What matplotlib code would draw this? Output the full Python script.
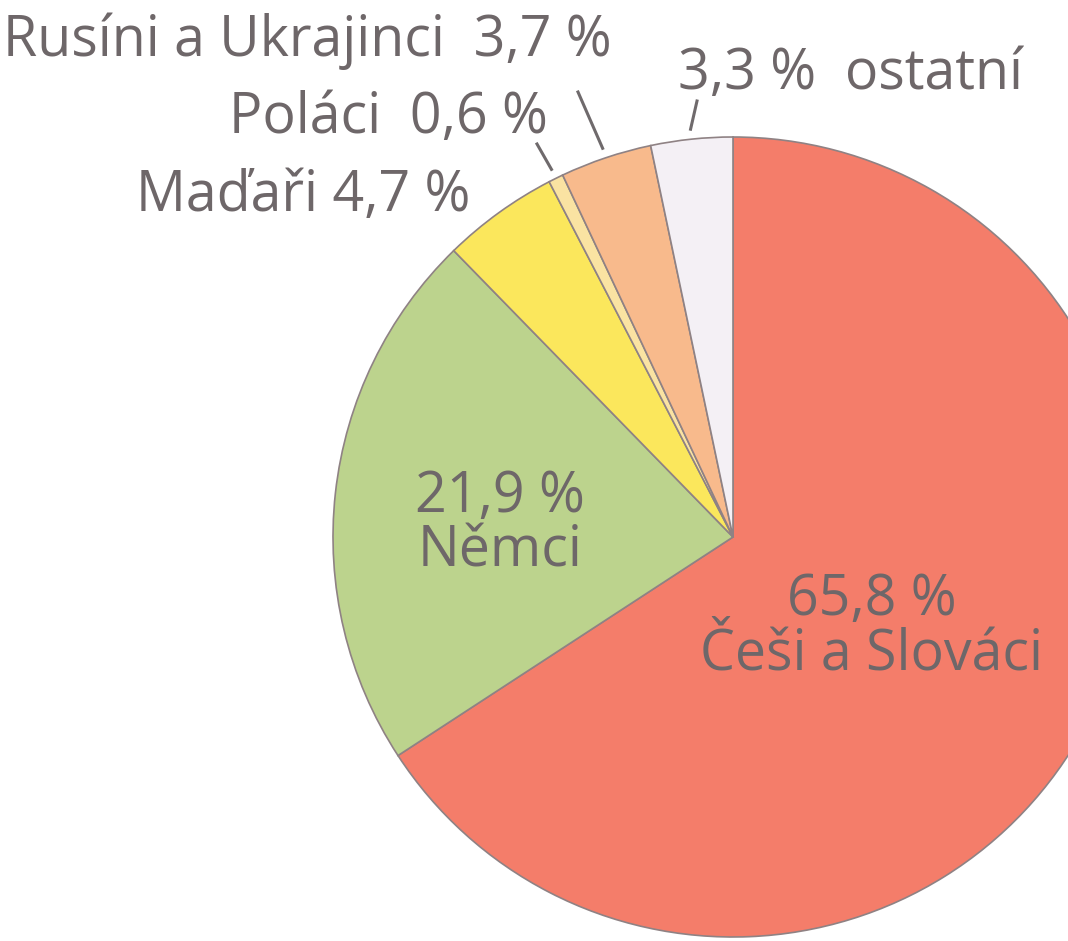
import numpy as np
import matplotlib.pyplot as plt

# --- data ---
labels = ['Češi a Slováci', 'Němci', 'Maďaři', 'Poláci', 'Rusíni a Ukrajinci', 'ostatní']
shares = [65.8, 21.9, 4.7, 0.6, 3.7, 3.3]
colors = ['#F47D6A', '#BCD38D', '#FBE75C', '#FAE3A2', '#F8BA8C', '#F4F0F5']

W, H = 1068, 941
cx, cy, R = 733, H - 537, 400
txt_color = '#6e6769'
font = ['Open Sans', 'DejaVu Sans']

fig = plt.figure(figsize=(W / 100, H / 100), dpi=100)
ax = fig.add_axes([0, 0, 1, 1])

wedges, _ = ax.pie(shares, colors=colors, startangle=90, counterclock=False,
                   center=(cx, cy), radius=R, frame=True,
                   wedgeprops=dict(edgecolor='#8f8284', linewidth=1.2))
ax.set_xlim(0, W)
ax.set_ylim(0, H)
ax.set_aspect('equal')
ax.axis('off')

def fmt(v):
    return f'{v:.1f}'.replace('.', ',') + ' %'

# popisky uvnitř koláče
ax.text(500, H - 525, fmt(shares[1]) + '\n' + labels[1], ha='center', va='center',
        fontsize=40, color=txt_color, family=font, linespacing=0.95)
ax.text(872, H - 628, fmt(shares[0]) + '\n' + labels[0], ha='center', va='center',
        fontsize=40, color=txt_color, family=font, linespacing=0.95)

# popisky venku + odkazové čáry
outer = [
    (2, labels[2] + ' ' + fmt(shares[2]), 470, 211, 'right', None),
    (3, labels[3] + '  ' + fmt(shares[3]), 548, 133, 'right', (537, 144)),
    (4, labels[4] + '  ' + fmt(shares[4]), 612, 56, 'right', (578, 92)),
    (5, fmt(shares[5]) + '  ' + labels[5], 678, 89, 'left', (697, 101)),
]
for i, s, x, y, ha, start in outer:
    ax.text(x, H - y, s, ha=ha, va='baseline', fontsize=40, color=txt_color, family=font)
    if start is not None:
        w = wedges[i]
        mid = np.deg2rad((w.theta1 + w.theta2) / 2)
        ex, ey = cx + 1.025 * R * np.cos(mid), cy + 1.025 * R * np.sin(mid)
        ax.plot([start[0], ex], [H - start[1], ey], color='#6f6a6c', linewidth=2.2)

fig.savefig('out.png', dpi=100)
